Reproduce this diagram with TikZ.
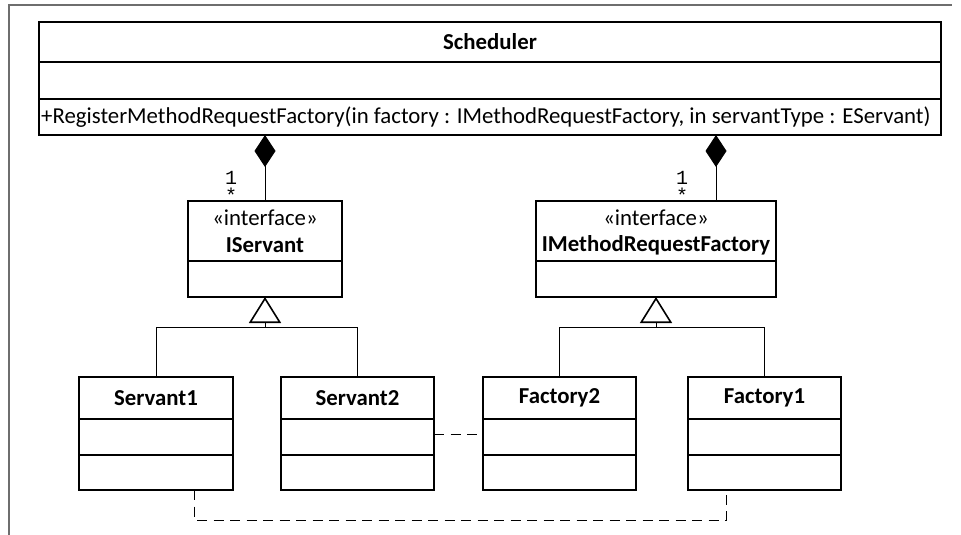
\documentclass[tikz,border=0pt]{standalone}
\usepackage{fontspec}
\setmainfont{Carlito}
\newfontfamily\monofont{Liberation Mono}
\usetikzlibrary{arrows.meta}
\definecolor{framegray}{RGB}{110,110,110}
\tikzset{
  box/.style={draw, line width=1.6pt, anchor=north west, inner sep=0pt, outer sep=0pt, fill=white},
  divider/.style={line width=1.6pt},
  conn/.style={line width=0.9pt},
  dashconn/.style={line width=1pt, dash pattern=on 10pt off 6.5pt},
  txt/.style={inner sep=0pt, font=\fontsize{22.8}{25}\selectfont},
  title/.style={txt, font=\fontsize{22.8}{25}\selectfont\bfseries},
  mult/.style={inner sep=0pt, font=\monofont\fontsize{20}{22}\selectfont},
}
\begin{document}
\begin{tikzpicture}[x=1pt,y=-1pt]
\useasboundingbox (0,0) rectangle (961,535);
% frame
\draw[framegray, line width=1.4pt] (9,535) -- (9,5) -- (952,5);

% Scheduler
\node[box, minimum width=902pt, minimum height=113pt] (sched) at (39,22) {};
\draw[divider] (39,62) -- (941,62);
\draw[divider] (39,99) -- (941,99);
\node[title] (schedT) at (490,42) {Scheduler};
\node[txt, anchor=west] (schedM) at (41,117) {+RegisterMethodRequestFactory(in factory : IMethodRequestFactory, in servantType : EServant)};

% IServant
\node[box, minimum width=154pt, minimum height=96pt] (iserv) at (188,201) {};
\draw[divider] (188,261) -- (342,261);
\node[txt] (iservS) at (265,218) {«interface»};
\node[title] (iservT) at (265,245) {IServant};

% IMethodRequestFactory
\node[box, minimum width=240pt, minimum height=96pt] (ifac) at (536,201) {};
\draw[divider] (536,261) -- (776,261);
\node[txt] (ifacS) at (656,218) {«interface»};
\node[title] (ifacT) at (656,245) {IMethodRequestFactory};

% Servant1
\node[box, minimum width=154pt, minimum height=113pt] (s1) at (79,377) {};
\draw[divider] (79,419) -- (233,419);
\draw[divider] (79,455) -- (233,455);
\node[title] (s1T) at (156,398) {Servant1};

% Servant2
\node[box, minimum width=153pt, minimum height=113pt] (s2) at (281,377) {};
\draw[divider] (281,419) -- (434,419);
\draw[divider] (281,455) -- (434,455);
\node[title] (s2T) at (357.5,398) {Servant2};

% Factory2
\node[box, minimum width=153pt, minimum height=113pt] (f2) at (483,377) {};
\draw[divider] (483,419) -- (636,419);
\draw[divider] (483,455) -- (636,455);
\node[title] (f2T) at (559.5,398) {Factory2};

% Factory1
\node[box, minimum width=153pt, minimum height=113pt] (f1) at (688,377) {};
\draw[divider] (688,419) -- (841,419);
\draw[divider] (688,455) -- (841,455);
\node[title] (f1T) at (764.5,398) {Factory1};

% compositions
\draw[conn, {Diamond[length=32pt,width=21pt]}-] (sched.south -| iserv.north) -- (iserv.north);
\draw[conn, {Diamond[length=32pt,width=21pt]}-] (716,135) coordinate (dR) -- (dR |- ifac.north) coordinate (ifacTop);
\node[mult, anchor=base] (m1a) at (231,184) {1};
\node[mult, anchor=north] (m1b) at (231,188) {*};
\node[mult, anchor=base] (m2a) at (682,184) {1};
\node[mult, anchor=north] (m2b) at (682,188) {*};

% generalisations
\coordinate (gL) at (265,327);
\coordinate (gR) at (656,327);
\draw[conn] (s1.north) -- (s1.north |- gL) -- (s2.north |- gL) -- (s2.north);
\draw[conn, -{Triangle[open, length=26pt, width=32pt, line width=1.6pt]}] (gL) -- (iserv.south);
\draw[conn] (f2.north) -- (f2.north |- gR) -- (f1.north |- gR) -- (f1.north);
\draw[conn, -{Triangle[open, length=26pt, width=32pt, line width=1.6pt]}] (gR) -- (ifac.south);

% dependencies (dashed)
\draw[dashconn] (s2.east |- 0,434) -- (f2.west |- 0,434);
\coordinate (dS1) at (194,490);
\coordinate (dF1) at (726,490);
\draw[dashconn] (dS1) -- (194,520) -- (726,520) -- (dF1);
\end{tikzpicture}
\end{document}
